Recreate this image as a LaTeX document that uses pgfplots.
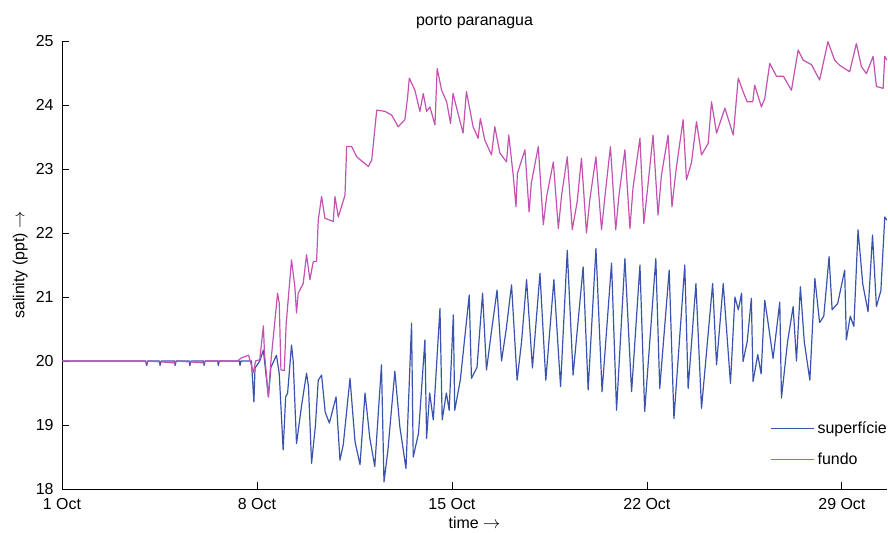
\documentclass[border=0pt]{standalone}
\usepackage{fontspec}
\setmainfont{Liberation Sans}
\usepackage{pgfplots}
\pgfplotsset{compat=1.18}
\definecolor{sup}{RGB}{58,84,174}
\definecolor{fun}{RGB}{196,82,176}
\begin{document}
\fontsize{16}{19}\selectfont
\begin{tikzpicture}
\useasboundingbox (0,0) rectangle (888bp,533bp);
\begin{axis}[
 at={(62bp,44bp)}, anchor=south west,
 width=825bp, height=448bp, scale only axis,
 xmin=0, xmax=29.62, ymin=18, ymax=25,
 axis lines=left, axis line style={-, black, line width=0.8bp},
 tick align=inside, major tick length=7bp, tick style={black, line width=0.8bp},
 xtick={0,7,14,21,28}, xticklabels={1 Oct,8 Oct,15 Oct,22 Oct,29 Oct},
 ytick={18,19,20,21,22,23,24,25},
 /pgf/number format/assume math mode=true,
 font=\fontsize{16}{19}\selectfont,
 ticklabel style={font=\fontsize{16}{19}\selectfont},
 xticklabel style={yshift=-4bp},
 yticklabel style={xshift=-3bp},
 title={porto paranagua},
 title style={at={(axis description cs:0.5,1.005)}, anchor=south, inner sep=4bp},
 xlabel={time $\rightarrow$},
 xlabel style={at={(axis description cs:0.5,-0.0585)}, anchor=north, inner sep=2bp},
 ylabel={salinity (ppt) $\rightarrow$},
 ylabel style={at={(axis description cs:-0.0365,0.5)}, anchor=south, inner sep=4bp},
 legend style={at={(axis description cs:1.006,0.162)}, anchor=north east, draw=none, fill=none,
   font=\fontsize{16}{19}\selectfont, row sep=11bp, inner sep=2bp,
   nodes={inner sep=3bp}},
 legend cell align=left,
 legend image code/.code={\draw[#1, line width=1.1bp] (-7bp,0bp) -- (36bp,0bp);},
 every axis plot/.append style={line width=1.2bp, line join=round},
]
\addplot[color=sup] coordinates {
(0,20.0) (3.0,20.0) (3.04,19.93) (3.08,20.0) (3.5,20.0) (3.52,19.93) (3.56,20.0)
(4.04,20.0) (4.06,19.93) (4.1,20.0) (4.57,20.0) (4.59,19.93) (4.63,20.0)
(5.08,20.0) (5.1,19.93) (5.14,20.0) (5.59,20.0) (5.61,19.93) (5.65,20.0)
(6.37,20.0) (6.39,19.93) (6.43,20.0) (6.8,20.0) (6.89,19.36) (6.93,19.89)
(7.1,20.0) (7.23,20.17) (7.41,19.44) (7.5,19.9) (7.7,20.09) (7.8,19.8)
(7.94,18.61) (8.03,19.44) (8.1,19.5) (8.24,20.25) (8.3,20.0) (8.42,18.71)
(8.6,19.3) (8.78,19.81) (8.85,19.6) (8.96,18.4) (9.1,19.0) (9.2,19.7)
(9.32,19.78) (9.45,19.2) (9.6,19.03) (9.84,19.44) (9.98,18.45) (10.1,18.7)
(10.34,19.73) (10.52,18.74) (10.7,18.38) (10.88,19.5) (11.05,18.8) (11.23,18.35)
(11.47,19.94) (11.56,18.11) (11.7,18.6) (11.95,19.84) (12.13,18.97) (12.35,18.32)
(12.55,20.59) (12.61,18.5) (12.8,18.87) (13.03,20.33) (13.09,18.79) (13.2,19.5)
(13.33,19.08) (13.57,20.82) (13.65,19.08) (13.8,19.5) (13.9,19.23) (14.05,20.72)
(14.1,19.23) (14.3,19.7) (14.62,21.03) (14.7,19.73) (14.9,19.9) (15.1,21.06)
(15.24,19.86) (15.4,20.4) (15.62,21.11) (15.78,20.0) (15.95,20.5) (16.14,21.19)
(16.34,19.7) (16.5,20.3) (16.68,21.27) (16.89,19.89) (17.16,21.37) (17.37,19.7)
(17.66,21.27) (17.9,19.6) (18.14,21.73) (18.35,19.78) (18.71,21.47) (18.89,19.55)
(19.17,21.76) (19.39,19.52) (19.73,21.53) (19.91,19.23) (20.21,21.6) (20.45,19.52)
(20.75,21.5) (20.92,19.21) (21.32,21.6) (21.46,19.57) (21.8,21.42) (21.97,19.1)
(22.36,21.5) (22.48,19.57) (22.76,21.21) (22.96,19.26) (23.36,21.21) (23.5,19.94)
(23.74,21.21) (24.0,19.65) (24.16,21.0) (24.28,20.8) (24.4,21.06) (24.45,19.99)
(24.6,20.3) (24.75,20.98) (24.81,19.68) (24.98,20.1) (25.1,19.8) (25.23,20.95)
(25.35,20.6) (25.53,20.04) (25.77,20.92) (25.83,19.42) (26.05,20.3) (26.25,20.85)
(26.37,20.0) (26.51,21.16) (26.65,20.3) (26.85,19.7) (27.03,21.29) (27.2,20.6)
(27.35,20.7) (27.54,21.63) (27.65,20.8) (27.85,20.9) (28.1,21.42) (28.16,20.33)
(28.3,20.7) (28.43,20.54) (28.58,22.05) (28.75,21.2) (28.94,20.77) (29.1,21.97)
(29.24,20.85) (29.4,21.1) (29.54,22.25) (29.62,22.2)
};
\addlegendentry{superfície}
\addplot[color=fun] coordinates {
(0,20.0) (3.0,20.0) (3.04,19.97) (3.08,20.0) (4.06,19.97) (4.1,20.0)
(5.1,19.97) (5.14,20.0) (6.3,20.0) (6.45,20.05) (6.7,20.09) (6.87,19.82)
(6.95,20.0) (7.1,20.02) (7.23,20.55) (7.27,20.12) (7.41,19.44) (7.5,19.99)
(7.74,21.06) (7.8,20.9) (7.86,19.86) (7.98,19.85) (8.05,20.59) (8.24,21.58)
(8.36,21.16) (8.42,20.75) (8.48,21.06) (8.66,21.21) (8.78,21.66) (8.9,21.27)
(9.02,21.55) (9.14,21.56) (9.2,22.2) (9.32,22.57) (9.44,22.23) (9.74,22.18)
(9.8,22.57) (9.92,22.25) (10.16,22.59) (10.22,23.35) (10.4,23.35) (10.58,23.19)
(11.0,23.04) (11.12,23.14) (11.3,23.92) (11.6,23.9) (11.84,23.84) (12.07,23.66)
(12.31,23.77) (12.41,24.13) (12.47,24.42) (12.67,24.23) (12.85,23.9) (12.97,24.18)
(13.09,23.9) (13.21,23.97) (13.39,23.69) (13.47,24.57) (13.63,24.23) (13.81,24.05)
(13.95,23.71) (14.04,24.18) (14.2,23.9) (14.4,23.56) (14.52,24.21) (14.76,23.66)
(14.94,23.48) (15.02,23.79) (15.18,23.45) (15.42,23.22) (15.54,23.66) (15.72,23.25)
(15.96,23.11) (16.04,23.53) (16.2,22.9) (16.3,22.41) (16.35,22.93) (16.62,23.3)
(16.77,22.33) (16.85,22.78) (17.1,23.35) (17.28,22.13) (17.4,22.57) (17.64,23.11)
(17.82,22.07) (17.94,22.6) (18.14,23.19) (18.32,22.05) (18.5,22.5) (18.65,23.17)
(18.83,22.0) (18.95,22.52) (19.17,23.19) (19.37,22.05) (19.5,22.6) (19.69,23.35)
(19.88,22.05) (20.0,22.6) (20.21,23.3) (20.39,22.07) (20.5,22.7) (20.75,23.48)
(20.89,22.15) (21.05,22.8) (21.22,23.53) (21.4,22.28) (21.52,22.9) (21.76,23.53)
(21.9,22.41) (22.05,23.0) (22.3,23.77) (22.42,22.83) (22.6,23.1) (22.78,23.74)
(22.96,23.22) (23.2,23.4) (23.32,24.05) (23.5,23.56) (23.8,23.95) (24.1,23.53)
(24.28,24.42) (24.46,24.2) (24.6,24.05) (24.8,24.05) (24.87,24.31) (25.11,23.97)
(25.23,24.1) (25.41,24.65) (25.65,24.45) (25.9,24.45) (26.19,24.23) (26.43,24.86)
(26.61,24.7) (26.91,24.63) (27.2,24.39) (27.5,24.99) (27.74,24.7) (27.92,24.62)
(28.28,24.52) (28.52,24.96) (28.7,24.6) (28.88,24.49) (29.12,24.76) (29.24,24.29)
(29.48,24.26) (29.54,24.76) (29.62,24.7)
};
\addlegendentry{fundo}
\end{axis}
\end{tikzpicture}
\end{document}
